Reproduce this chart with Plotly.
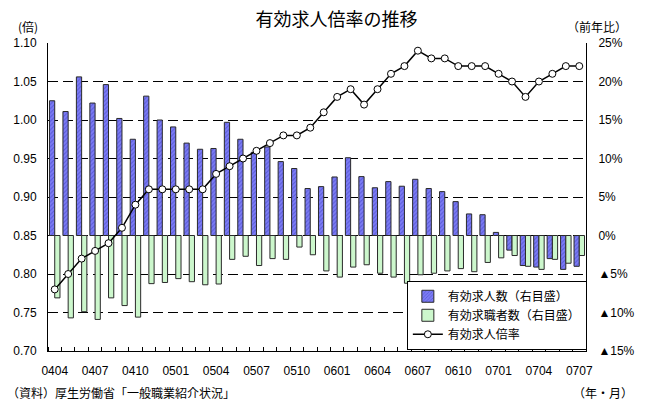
import plotly.graph_objects as go

months = ["0404", "0405", "0406", "0407", "0408", "0409", "0410", "0411", "0412",
          "0501", "0502", "0503", "0504", "0505", "0506", "0507", "0508", "0509",
          "0510", "0511", "0512", "0601", "0602", "0603", "0604", "0605", "0606",
          "0607", "0608", "0609", "0610", "0611", "0612", "0701", "0702", "0703",
          "0704", "0705", "0706", "0707"]

# 有効求人倍率 (倍, left axis)
ratio = [0.78, 0.80, 0.82, 0.83, 0.84, 0.86, 0.89, 0.91, 0.91, 0.91,
         0.91, 0.91, 0.93, 0.94, 0.95, 0.96, 0.97, 0.98, 0.98, 0.99,
         1.01, 1.03, 1.04, 1.02, 1.04, 1.06, 1.07, 1.09, 1.08, 1.08,
         1.07, 1.07, 1.07, 1.06, 1.05, 1.03, 1.05, 1.06, 1.07, 1.07]

# 有効求人数 前年比 (%, right axis)
offers_yoy = [17.5, 16.1, 20.6, 17.2, 19.6, 15.2, 12.5, 18.1, 15.0, 14.1,
              12.0, 11.2, 11.3, 14.7, 12.5, 10.8, 11.5, 9.6, 8.7, 6.1,
              6.35, 7.6, 10.1, 7.65, 6.2, 7.0, 6.4, 7.3, 6.1, 5.7,
              4.4, 2.8, 2.7, 0.4, -1.9, -3.9, -4.1, -3.0, -4.4, -4.0]

# 有効求職者数 前年比 (%, right axis)
seekers_yoy = [-8.1, -10.7, -9.9, -10.9, -8.1, -9.1, -10.6, -6.25, -6.1, -5.6,
               -6.0, -6.4, -6.3, -3.1, -2.7, -3.9, -3.0, -3.1, -1.5, -2.5,
               -4.6, -5.4, -4.1, -3.8, -4.9, -5.4, -6.2, -5.1, -4.9, -4.6,
               -4.3, -4.7, -3.5, -2.9, -2.6, -4.0, -4.4, -3.1, -3.6, -2.6]

pct_ticks = [-15, -10, -5, 0, 5, 10, 15, 20, 25]
pct_labels = ["▲15%", "▲10%", "▲5%", "0%", "5%", "10%", "15%", "20%", "25%"]

FONT = "Arial, 'Liberation Sans', 'Noto Sans CJK JP', sans-serif"
JFONT = "'Noto Sans CJK JP', sans-serif"

idx = list(range(len(months)))

fig = go.Figure()
fig.add_trace(go.Bar(
    x=idx, y=offers_yoy, name="有効求人数（右目盛）", yaxis="y",
    marker=dict(color="#7070ee",
                pattern=dict(shape="/", fgcolor="#3a3ac0", bgcolor="#7c7cf4",
                             size=3, solidity=0.35),
                line=dict(color="#2a2a2a", width=1)),
))
fig.add_trace(go.Bar(
    x=idx, y=seekers_yoy, name="有効求職者数（右目盛）", yaxis="y",
    marker=dict(color="#ccf7cc", line=dict(color="#2a2a2a", width=1)),
))
fig.add_trace(go.Scatter(
    x=idx, y=ratio, name="有効求人倍率", yaxis="y2", mode="lines+markers",
    line=dict(color="black", width=1.5),
    marker=dict(symbol="circle", size=7, color="white",
                line=dict(color="black", width=1)),
))

fig.update_layout(
    width=647, height=400,
    margin=dict(l=48, r=52, t=43, b=49),
    paper_bgcolor="white", plot_bgcolor="white",
    font=dict(family=FONT, size=12, color="black"),
    barmode="group", bargap=0.22, bargroupgap=0,
    showlegend=True,
    title=dict(text="有効求人倍率の推移", x=0.52, xanchor="center",
               xref="container", y=0.952, yanchor="middle", yref="container",
               font=dict(family=JFONT, size=18, color="black")),
    legend=dict(x=0.667, y=0.228, xanchor="left", yanchor="top",
                bgcolor="white", bordercolor="black", borderwidth=1,
                font=dict(family=JFONT, size=12), itemwidth=30,
                tracegroupgap=0),
    xaxis=dict(range=[-0.5, len(months) - 0.5], tickmode="array",
               tickvals=idx[::3], ticktext=months[::3],
               showgrid=False, zeroline=False, showline=True,
               linecolor="black", linewidth=1, ticks="",
               ticklabelstandoff=9,
               minor=dict(tick0=-0.5, dtick=1, ticks="inside", ticklen=4,
                          tickcolor="black", tickwidth=1, showgrid=False)),
    yaxis=dict(range=[-15, 25], tickmode="array", tickvals=pct_ticks,
               ticktext=pct_labels, side="right", showline=True,
               linecolor="black", linewidth=1, zeroline=False,
               showgrid=True, gridcolor="black", gridwidth=1,
               griddash="10px,5px", ticks="", ticklabelstandoff=9),
    yaxis2=dict(range=[0.70, 1.10], dtick=0.05, tick0=0.70,
                tickformat=".2f", overlaying="y", side="left",
                showline=True, linecolor="black", linewidth=1,
                showgrid=False, zeroline=False, ticks="",
                ticklabelstandoff=8),
    annotations=[
        dict(text="(倍)", x=28, y=27, xref="paper", yref="paper",
             showarrow=False, font=dict(family=JFONT, size=12)),
        dict(text="（前年比）", x=606, y=27, xref="paper", yref="paper",
             showarrow=False, font=dict(family=JFONT, size=12)),
        dict(text="（資料）厚生労働省「一般職業紹介状況」", x=4, y=392,
             xref="paper", yref="paper", showarrow=False, xanchor="left",
             font=dict(family=JFONT, size=12)),
        dict(text="（年・月）", x=612, y=392, xref="paper", yref="paper",
             showarrow=False, font=dict(family=JFONT, size=12)),
    ],
)

# convert pixel positions of annotations to paper coordinates
pw = 647 - 48 - 52
ph = 400 - 43 - 49
for a in fig.layout.annotations:
    a.x = (a.x - 48) / pw
    a.y = (400 - 49 - a.y) / ph
    a.yanchor = "middle"
    if a.xanchor is None:
        a.xanchor = "center"

fig.write_html("out.html",
               config={"displayModeBar": False},
               post_script="document.body.style.margin='0';"
                           "document.body.style.overflow='hidden';")
